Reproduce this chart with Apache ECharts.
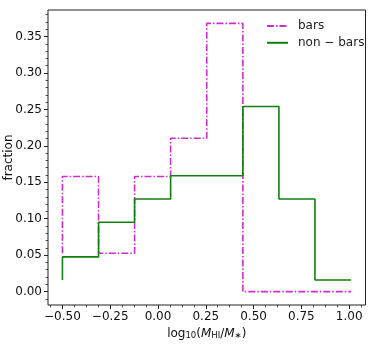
<!DOCTYPE html>
<html>
<head>
<meta charset="utf-8">
<script src="https://cdn.jsdelivr.net/npm/echarts@6/dist/echarts.min.js"></script>
<style>
html,body{margin:0;padding:0;background:#fff;}
#chart{width:374px;height:347px;}
</style>
</head>
<body>
<div id="chart"></div>
<script>
// Bin edges (log10(M_HI/M_*)) and step values (first value = start of the 'pre' step)
const binEdges = [-0.5, -0.311, -0.1225, 0.066, 0.255, 0.444, 0.6325, 0.821, 1.01];
const barsFrac = [0.0526, 0.158, 0.0526, 0.158, 0.2105, 0.368, 0, 0, 0];
const nonBarsFrac = [0.016, 0.0476, 0.0952, 0.127, 0.159, 0.159, 0.254, 0.127, 0.016];
const seriesNames = ['bars', 'non \u2212 bars'];
const xTicks = [-0.5, -0.25, 0, 0.25, 0.5, 0.75, 1.0];
const yTicks = [0, 0.05, 0.1, 0.15, 0.2, 0.25, 0.3, 0.35];

const xMin = -0.5755, xMax = 1.0855;
const yMin = -0.0184, yMax = 0.3864;

function fmt(v) {
  const s = Math.abs(v).toFixed(2);
  return v < -1e-9 ? '\u2212' + s : s;
}
function minorList(lo, hi, step) {
  const out = [];
  const start = Math.ceil(lo / step - 1e-9);
  for (let k = start; k * step <= hi + 1e-9; k++) out.push(+(k * step).toFixed(6));
  return out;
}
const xMinor = minorList(xMin, xMax, 0.0625);
const yMinor = minorList(yMin, yMax, 0.01);

const font = 'DejaVu Sans';
const txt = '#111';

const chart = echarts.init(document.getElementById('chart'), null, {renderer: 'canvas'});

const baseX = {type: 'value', min: xMin, max: xMax, gridIndex: 0, splitLine: {show: false}, axisLine: {show: false, onZero: false}};
const baseY = {type: 'value', min: yMin, max: yMax, gridIndex: 0, splitLine: {show: false}, axisLine: {show: false, onZero: false}};

chart.setOption({
  animation: false,
  backgroundColor: '#fff',
  grid: {left: 48, top: 10, width: 317.5, height: 295, containLabel: false, outerBoundsMode: 'none',
         show: true, borderColor: '#222', borderWidth: 1, backgroundColor: 'transparent'},
  legend: {
    orient: 'vertical', left: 266, top: 20, padding: 0, itemWidth: 21, itemHeight: 14, itemGap: 4.8,
    itemStyle: {opacity: 0, borderWidth: 0},
    textStyle: {fontFamily: font, fontSize: 12, color: '#222', padding: [0, 0, 0, 5]},
    data: seriesNames
  },
  xAxis: [
    Object.assign({}, baseX, {
      position: 'bottom',
      name: '{n|log}{s|10}{n|(}{i|M}{s|HI}{n|/}{i|M}{s|\u2217}{n|)}',
      nameLocation: 'middle', nameGap: 19, nameMoveOverlap: false,
      nameTextStyle: {
        fontFamily: font, fontSize: 12, color: txt,
        rich: {
          n: {fontFamily: font, fontSize: 12, color: txt, verticalAlign: 'bottom', lineHeight: 16},
          i: {fontFamily: font, fontSize: 12, color: txt, fontStyle: 'italic', verticalAlign: 'bottom', lineHeight: 16},
          s: {fontFamily: font, fontSize: 8.5, color: txt, verticalAlign: 'bottom', lineHeight: 12}
        }
      },
      axisTick: {show: true, inside: false, length: 4, lineStyle: {color: '#222', width: 1}, customValues: xTicks},
      axisLabel: {show: true, margin: 6, fontFamily: font, fontSize: 12, color: txt, customValues: xTicks, formatter: fmt}
    }),
    Object.assign({}, baseX, {
      position: 'bottom',
      axisTick: {show: true, inside: false, length: 2.4, lineStyle: {color: '#222', width: 0.8}, customValues: xMinor},
      axisLabel: {show: false}
    })
  ],
  yAxis: [
    Object.assign({}, baseY, {
      position: 'left',
      name: 'fraction', nameLocation: 'middle', nameGap: 33, nameRotate: 90, nameMoveOverlap: false,
      nameTextStyle: {fontFamily: font, fontSize: 12, color: txt},
      axisTick: {show: true, inside: false, length: 4, lineStyle: {color: '#222', width: 1}, customValues: yTicks},
      axisLabel: {show: true, margin: 6, fontFamily: font, fontSize: 12, color: txt, customValues: yTicks, formatter: fmt}
    }),
    Object.assign({}, baseY, {
      position: 'left',
      axisTick: {show: true, inside: false, length: 2.4, lineStyle: {color: '#222', width: 0.8}, customValues: yMinor},
      axisLabel: {show: false}
    })
  ],
  series: [
    {
      name: seriesNames[0], type: 'line', step: 'start', symbol: 'none', xAxisIndex: 0, yAxisIndex: 0,
      data: binEdges.map((x, i) => [x, barsFrac[i]]),
      lineStyle: {color: '#cc2ecc', width: 1.6, type: [7, 2, 1.5, 2]},
      itemStyle: {color: '#cc2ecc'}
    },
    {
      name: seriesNames[1], type: 'line', step: 'start', symbol: 'none', xAxisIndex: 0, yAxisIndex: 0,
      data: binEdges.map((x, i) => [x, nonBarsFrac[i]]),
      lineStyle: {color: '#108010', width: 1.6, type: 'solid'},
      itemStyle: {color: '#108010'}
    }
  ]
});
</script>
</body>
</html>
